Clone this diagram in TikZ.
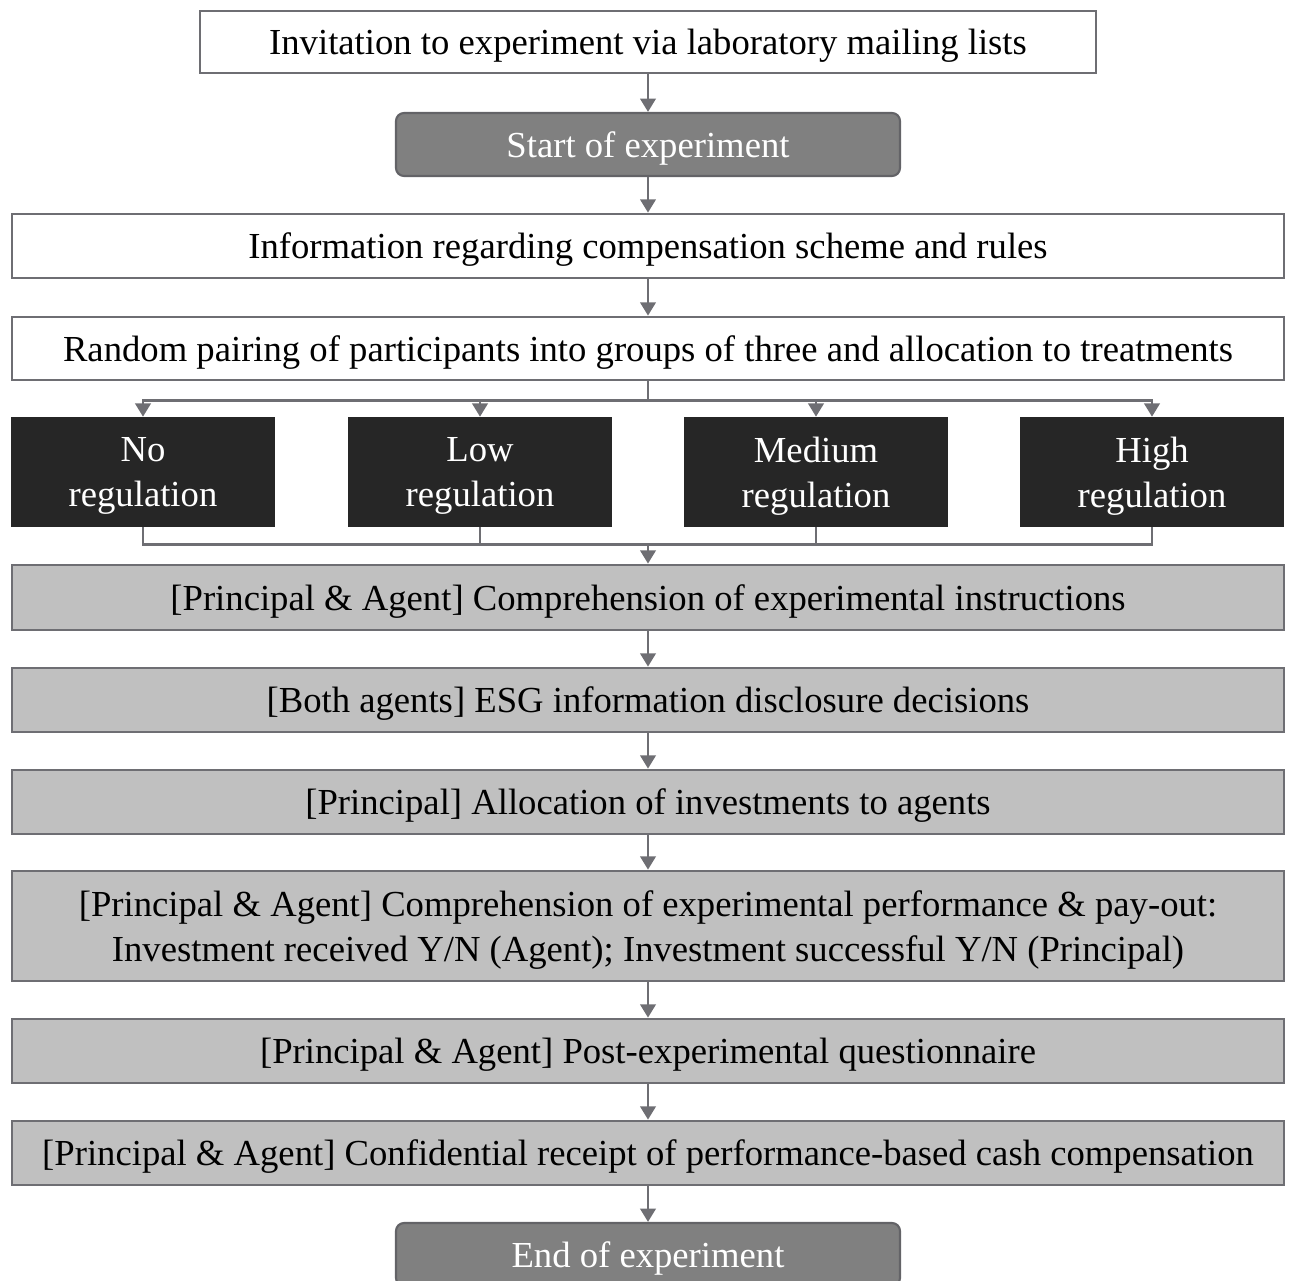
\documentclass[tikz,border=0pt]{standalone}
\usepackage{fontspec}
\setmainfont{Liberation Serif}
\usetikzlibrary{arrows.meta,calc}
\definecolor{lc}{HTML}{6E6E73}
\definecolor{startfill}{HTML}{808080}
\definecolor{darkfill}{HTML}{262626}
\definecolor{lightfill}{HTML}{C0C0C0}
\begin{document}
\begin{tikzpicture}[x=0.75pt,y=-0.75pt,
  wh/.style 2 args={minimum width=#1*0.75pt,minimum height=#2*0.75pt},
  base/.style={font=\fontsize{27.5}{33.75}\selectfont,align=center,inner sep=0pt,text depth=0pt},
  whitebox/.style={base,draw=lc,line width=2pt,fill=white},
  termbox/.style={base,draw=lc!90!black,line width=1.6pt,fill=startfill,text=white,rounded corners=6pt},
  darkbox/.style={base,fill=darkfill,text=white},
  greybox/.style={base,draw=lc,line width=2pt,fill=lightfill},
  ln/.style={draw=lc,line width=2.2pt},
  arr/.style={draw=lc,line width=2.2pt,-{Triangle[length=10pt,width=11.5pt]}}]
\useasboundingbox (0,0) rectangle (1292,1281);
\node[whitebox,wh={896}{62}] (inv) at (648,42) {Invitation to experiment via laboratory mailing lists};
\node[termbox,wh={504}{63}] (start) at (648,144.5) {Start of experiment};
\node[whitebox,wh={1272}{64}] (info) at (648,246) {Information regarding compensation scheme and rules};
\node[whitebox,wh={1272}{63}] (rand) at (648,348.5) {Random pairing of participants into groups of three and allocation to treatments};
\node[darkbox,wh={264}{110}] (no) at (143,472) {No\\regulation};
\node[darkbox,wh={264}{110}] (low) at (480,472) {Low\\regulation};
\node[darkbox,wh={264}{110}] (med) at (816,472) {Medium\\regulation};
\node[darkbox,wh={264}{110}] (high) at (1152,472) {High\\regulation};
\node[greybox,wh={1272}{65}] (comp) at (648,597.5) {[Principal \& Agent] Comprehension of experimental instructions};
\node[greybox,wh={1272}{64}] (esg) at (648,700) {[Both agents] ESG information disclosure decisions};
\node[greybox,wh={1272}{64}] (alloc) at (648,802) {[Principal] Allocation of investments to agents};
\node[greybox,wh={1272}{110}] (perf) at (648,926) {[Principal \& Agent] Comprehension of experimental performance \& pay-out:\\Investment received Y/N (Agent); Investment successful Y/N (Principal)};
\node[greybox,wh={1272}{64}] (quest) at (648,1051) {[Principal \& Agent] Post-experimental questionnaire};
\node[greybox,wh={1272}{64}] (cash) at (648,1153) {[Principal \& Agent] Confidential receipt of performance-based cash compensation};
\node[termbox,wh={504}{63}] (end) at (648,1254.5) {End of experiment};

\draw[arr] (inv) -- (start);
\draw[arr] (start) -- (info);
\draw[arr] (info) -- (rand);
\draw[ln] (rand.south) -- ++(0,19) coordinate (bt);
\draw[ln,line cap=rect] (bt -| no.north) -- (bt -| high.north);
\foreach \n in {no,low,med,high} \draw[arr] (bt -| \n.north) -- (\n.north);
\coordinate (bb) at ($(comp.north)+(0,-19)$);
\foreach \n in {no,low,med,high} \draw[ln] (\n.south) -- (\n.south |- bb);
\draw[ln,line cap=rect] (bb -| no.south) -- (bb -| high.south);
\draw[arr] (bb) -- (comp.north);
\draw[arr] (comp) -- (esg);
\draw[arr] (esg) -- (alloc);
\draw[arr] (alloc) -- (perf);
\draw[arr] (perf) -- (quest);
\draw[arr] (quest) -- (cash);
\draw[arr] (cash) -- (end);
\end{tikzpicture}
\end{document}
